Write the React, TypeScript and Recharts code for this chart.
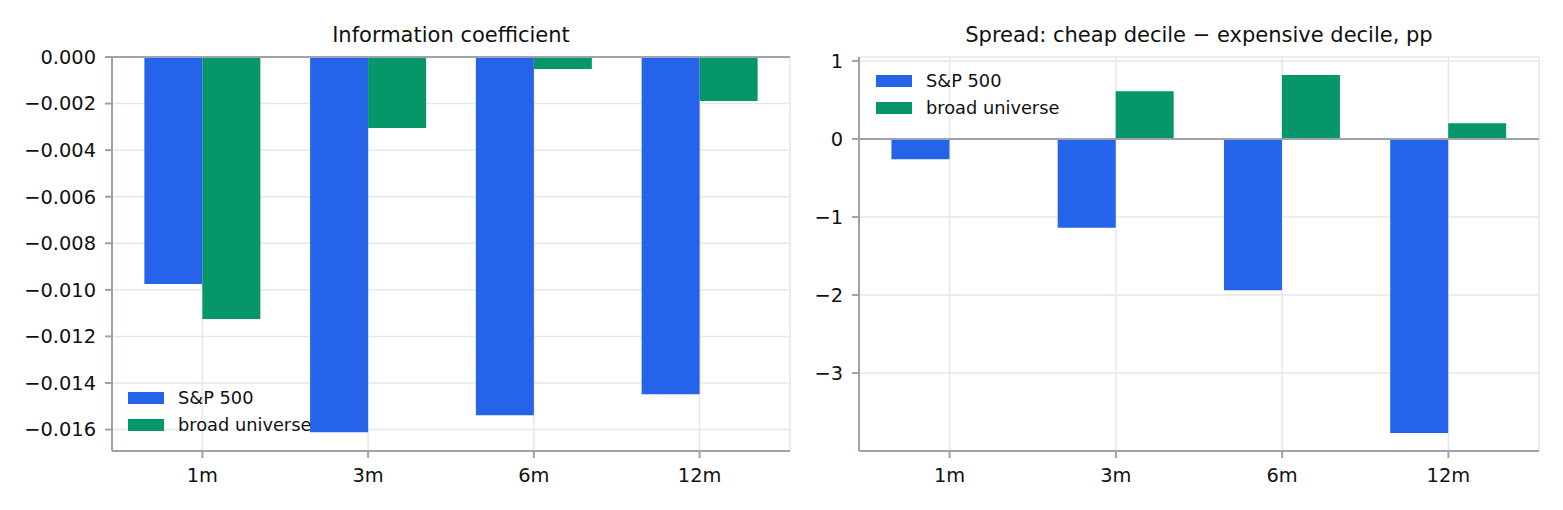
import React from 'react';
import { BarChart, Bar, XAxis, YAxis, CartesianGrid, ReferenceLine } from 'recharts';

const horizons = ['1m', '3m', '6m', '12m'];
const icSP500 = [-0.00975, -0.01611, -0.01538, -0.01448];
const icBroad = [-0.01125, -0.00305, -0.00052, -0.00189];
const spreadSP500 = [-0.26, -1.14, -1.94, -3.77];
const spreadBroad = [0.0, 0.61, 0.82, 0.2];
const icTicks = [0, -0.002, -0.004, -0.006, -0.008, -0.01, -0.012, -0.014, -0.016];
const spreadTicks = [1, 0, -1, -2, -3];
const seriesNames = ['S&P 500', 'broad universe'];
const titles = ['Information coefficient', 'Spread: cheap decile \u2212 expensive decile, pp'];

const BLUE = '#2563eb';
const GREEN = '#059669';
const AXIS = '#9ca3af';
const GRID = '#e5e7eb';
const TEXT = '#111111';
const FONT = '"DejaVu Sans", sans-serif';
const TICK_FS = 19.4;

const icData = horizons.map((h, i) => ({ h, sp: icSP500[i], broad: icBroad[i] }));
const spreadData = horizons.map((h, i) => ({ h, sp: spreadSP500[i], broad: spreadBroad[i] }));

const minus = (s: string) => s.replace('-', '\u2212');
const fmtIC = (v: number) => (Math.abs(v) < 1e-12 ? '0.000' : minus(v.toFixed(3)));
const fmtSpread = (v: number) => minus(String(v));

const LegendBox = (props: { left: number; top: number }) => (
  <div
    style={{
      position: 'absolute', left: props.left, top: props.top,
      fontFamily: FONT, fontSize: 17.8, color: TEXT,
    }}
  >
    {seriesNames.map((n, i) => (
      <div key={n} style={{ display: 'flex', alignItems: 'center', height: 26.7, whiteSpace: 'nowrap' }}>
        <div style={{ width: 36, height: 12, background: i === 0 ? BLUE : GREEN, marginRight: 14 }} />
        <span>{n}</span>
      </div>
    ))}
  </div>
);

const lineStyle = { stroke: AXIS, strokeWidth: 2 };

const makeYTick = (fmt: (v: number) => string) => (p: any) => (
  <text
    x={p.x}
    y={p.y}
    dy="0.355em"
    textAnchor="end"
    fill={TEXT}
    fontSize={TICK_FS}
    fontFamily={FONT}
  >
    {fmt(p.payload.value)}
  </text>
);

const XTick = (p: any) => (
  <text x={p.x} y={p.y} dy="0.71em" textAnchor="middle" fill={TEXT} fontSize={TICK_FS} fontFamily={FONT}>
    {p.payload.value}
  </text>
);

function Panel(props: {
  data: any[];
  width: number;
  yWidth: number;
  rightMargin: number;
  domain: [number, number];
  ticks: number[];
  fmt: (v: number) => string;
}) {
  const { data, width, yWidth, rightMargin, domain, ticks, fmt } = props;
  return (
    <BarChart
      width={width}
      height={510}
      data={data}
      margin={{ top: 57, right: rightMargin, bottom: 0, left: 0 }}
      barCategoryGap="15%"
      barGap={0}
    >
      <CartesianGrid stroke={GRID} strokeWidth={1.5} />
      <XAxis
        dataKey="h"
        height={59}
        padding={{ left: 7.5, right: 7.5 }}
        axisLine={lineStyle}
        tickLine={lineStyle}
        tickSize={7}
        tickMargin={10}
        tick={XTick}
      />
      <YAxis
        type="number"
        domain={domain}
        ticks={ticks}
        interval={0}
        width={yWidth}
        allowDataOverflow
        axisLine={lineStyle}
        tickLine={lineStyle}
        tickSize={7}
        tickMargin={9}
        tick={makeYTick(fmt)}
      />
      <Bar dataKey="sp" name={seriesNames[0]} fill={BLUE} isAnimationActive={false} />
      <Bar dataKey="broad" name={seriesNames[1]} fill={GREEN} isAnimationActive={false} />
      <ReferenceLine y={0} stroke={AXIS} strokeWidth={2} />
    </BarChart>
  );
}

const titleStyle: React.CSSProperties = {
  position: 'absolute', top: 25, textAlign: 'center',
  fontFamily: FONT, fontSize: 21, lineHeight: '21px', color: TEXT, whiteSpace: 'nowrap',
};

export default function App() {
  return (
    <div style={{ position: 'absolute', left: 0, top: 0, width: 1563, height: 510, background: '#fff' }}>
      <div style={{ ...titleStyle, left: 112, width: 678 }}>{titles[0]}</div>
      <div style={{ ...titleStyle, left: 859, width: 680 }}>{titles[1]}</div>
      <div style={{ position: 'absolute', left: 0, top: 0 }}>
        <Panel
          data={icData}
          width={800}
          yWidth={112}
          rightMargin={10}
          domain={[-0.01692, 0]}
          ticks={icTicks}
          fmt={fmtIC}
        />
      </div>
      <div style={{ position: 'absolute', left: 800, top: 0 }}>
        <Panel
          data={spreadData}
          width={763}
          yWidth={59}
          rightMargin={24}
          domain={[-4.0, 1.05]}
          ticks={spreadTicks}
          fmt={fmtSpread}
        />
      </div>
      <LegendBox left={128} top={384.6} />
      <LegendBox left={876} top={67.6} />
    </div>
  );
}
